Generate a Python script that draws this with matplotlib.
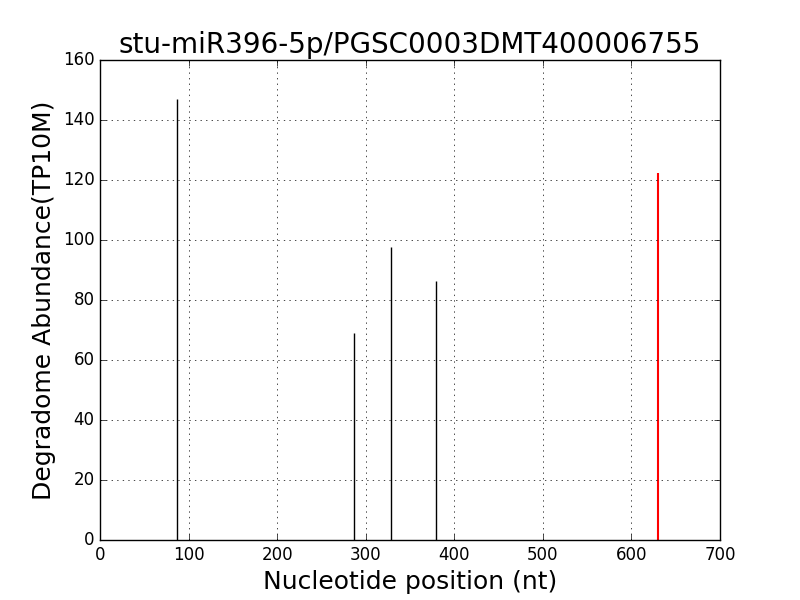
import matplotlib
matplotlib.use("Agg")
import matplotlib.pyplot as plt

positions = [87, 287, 329, 379]
abundance = [147, 69, 97.8, 86.3]
target_pos = [630]
target_abund = [122.3]

plt.style.use("classic")
fig, ax = plt.subplots(figsize=(8, 6), dpi=100)
ax.vlines(positions, 0, abundance, colors="black", linewidth=1)
ax.vlines(target_pos, 0, target_abund, colors="red", linewidth=1.5)
ax.set_xlim(0, 700)
ax.set_ylim(0, 160)
ax.grid(True)
ax.set_xlabel("Nucleotide position (nt)", fontsize=18)
ax.set_ylabel("Degradome Abundance(TP10M)", fontsize=18)
ax.set_title("stu-miR396-5p/PGSC0003DMT400006755", fontsize=20)
fig.savefig("out.png", dpi=100, facecolor="white")
